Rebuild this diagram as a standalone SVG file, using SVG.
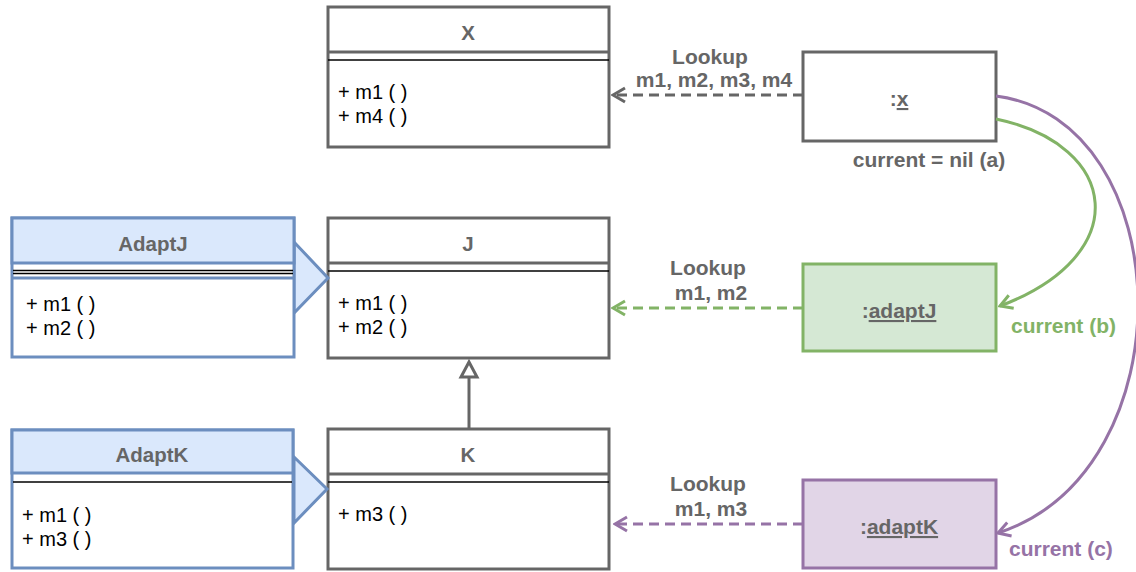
<svg xmlns="http://www.w3.org/2000/svg" width="1136" height="572" viewBox="0 0 1136 572">
<defs>
<style>
.box{fill:#ffffff;stroke:#666666;stroke-width:3}
.bbox{fill:#ffffff;stroke:#6c8ebf;stroke-width:3}
.gl{stroke:#666666;stroke-width:3}
.bl{stroke:#6c8ebf;stroke-width:3}
.sep{stroke:#000000;stroke-width:1.3}
.title{font-family:"Liberation Sans",Arial,sans-serif;font-size:20.5px;font-weight:bold;fill:#666666;text-anchor:middle}
.meth{font-family:"Liberation Sans",Arial,sans-serif;font-size:20px;fill:#000000}
.lbl{font-family:"Liberation Sans",Arial,sans-serif;font-size:21px;font-weight:bold;fill:#666666;text-anchor:middle}
.inst{font-family:"Liberation Sans",Arial,sans-serif;font-size:21px;font-weight:bold;fill:#666666;text-anchor:middle}
.dash{fill:none;stroke-width:3;stroke-dasharray:10 6}
.curve{fill:none;stroke-width:3}
</style>
<marker id="aGray" markerUnits="userSpaceOnUse" viewBox="0 0 16 18" markerWidth="16" markerHeight="18" refX="14" refY="9" orient="auto"><path d="M2,2 L14,9 L2,16" fill="none" stroke="#666666" stroke-width="3"/></marker>
<marker id="aGreen" markerUnits="userSpaceOnUse" viewBox="0 0 16 18" markerWidth="16" markerHeight="18" refX="14" refY="9" orient="auto"><path d="M2,2 L14,9 L2,16" fill="none" stroke="#82b366" stroke-width="3"/></marker>
<marker id="aPurple" markerUnits="userSpaceOnUse" viewBox="0 0 16 18" markerWidth="16" markerHeight="18" refX="14" refY="9" orient="auto"><path d="M2,2 L14,9 L2,16" fill="none" stroke="#9673a6" stroke-width="3"/></marker>
</defs>
<rect width="1136" height="572" fill="#ffffff"/>

<g id="node-X">
<rect class="box" x="328" y="7" width="281" height="140"/>
<line class="gl" x1="328" y1="52" x2="609" y2="52"/>
<line class="sep" x1="328" y1="60" x2="609" y2="60"/>
<text class="title" x="468" y="40">X</text>
<text class="meth" x="338" y="99">+ m1 ( )</text>
<text class="meth" x="338" y="123">+ m4 ( )</text>
</g>

<g id="node-J">
<rect class="box" x="328" y="218" width="281" height="140"/>
<line class="gl" x1="328" y1="263" x2="609" y2="263"/>
<line class="sep" x1="328" y1="271" x2="609" y2="271"/>
<text class="title" x="468" y="251">J</text>
<text class="meth" x="338" y="310">+ m1 ( )</text>
<text class="meth" x="338" y="334">+ m2 ( )</text>
</g>

<g id="node-K">
<rect class="box" x="328" y="429" width="281" height="140"/>
<line class="gl" x1="328" y1="474" x2="609" y2="474"/>
<line class="sep" x1="328" y1="482" x2="609" y2="482"/>
<text class="title" x="468" y="462">K</text>
<text class="meth" x="338" y="521">+ m3 ( )</text>
</g>

<g id="node-AdaptJ">
<polygon points="294,242 328,278 294,313" fill="#dae8fc" stroke="#6c8ebf" stroke-width="3" stroke-linejoin="miter"/>
<rect class="bbox" x="12" y="218" width="282" height="139"/>
<rect x="12" y="218" width="282" height="45" fill="#dae8fc" stroke="#6c8ebf" stroke-width="3"/>
<line class="sep" x1="13" y1="270.5" x2="293" y2="270.5"/>
<line class="sep" x1="13" y1="273.5" x2="293" y2="273.5"/>
<line class="bl" x1="12" y1="278" x2="294" y2="278"/>
<text class="title" x="153" y="251">AdaptJ</text>
<text class="meth" x="26" y="311">+ m1 ( )</text>
<text class="meth" x="26" y="335">+ m2 ( )</text>
</g>

<g id="node-AdaptK">
<polygon points="294,457 327,489 294,523" fill="#dae8fc" stroke="#6c8ebf" stroke-width="3"/>
<rect class="bbox" x="12" y="430" width="281" height="138"/>
<rect x="12" y="430" width="281" height="43" fill="#dae8fc" stroke="#6c8ebf" stroke-width="3"/>
<line class="sep" x1="13" y1="482" x2="292" y2="482"/>
<text class="title" x="152" y="462">AdaptK</text>
<text class="meth" x="22" y="522">+ m1 ( )</text>
<text class="meth" x="22" y="546">+ m3 ( )</text>
</g>

<g id="node-x">
<rect x="803" y="52" width="193" height="89" fill="#ffffff" stroke="#666666" stroke-width="3"/>
<text class="inst" x="899" y="106">:<tspan text-decoration="underline">x</tspan></text>
</g>

<g id="node-adaptJ">
<rect x="803" y="264" width="193" height="87" fill="#d5e8d4" stroke="#82b366" stroke-width="3"/>
<text class="inst" x="899" y="318">:<tspan text-decoration="underline">adaptJ</tspan></text>
</g>

<g id="node-adaptK">
<rect x="803" y="480" width="193" height="88" fill="#e1d5e7" stroke="#9673a6" stroke-width="3"/>
<text class="inst" x="899" y="534">:<tspan text-decoration="underline">adaptK</tspan></text>
</g>

<g id="connectors">
<line x1="469" y1="429" x2="469" y2="377" stroke="#666666" stroke-width="3"/>
<polygon points="469,362 461,377 477,377" fill="#ffffff" stroke="#666666" stroke-width="3"/>

<path class="dash" d="M803,95 L613,95" stroke="#666666" marker-end="url(#aGray)"/>
<text class="lbl" x="710" y="64">Lookup</text>
<text class="lbl" x="714" y="87">m1, m2, m3, m4</text>

<path class="dash" d="M803,308 L613,308" stroke="#82b366" marker-end="url(#aGreen)"/>
<text class="lbl" x="708" y="275">Lookup</text>
<text class="lbl" x="711" y="300">m1, m2</text>

<path class="dash" d="M803,524 L615,524" stroke="#9673a6" marker-end="url(#aPurple)"/>
<text class="lbl" x="708" y="491">Lookup</text>
<text class="lbl" x="711" y="516">m1, m3</text>

<path class="curve" d="M996,119 C1120,145 1135,255 1000,306" stroke="#82b366" marker-end="url(#aGreen)"/>
<path class="curve" d="M996,96 C1180,120 1190,470 998,533" stroke="#9673a6" marker-end="url(#aPurple)"/>

<text class="lbl" x="929" y="167">current = nil (a)</text>
<text class="lbl" x="1011" y="333" style="text-anchor:start;fill:#82b366">current (b)</text>
<text class="lbl" x="1009" y="556" style="text-anchor:start;fill:#9673a6">current (c)</text>
</g>
</svg>
